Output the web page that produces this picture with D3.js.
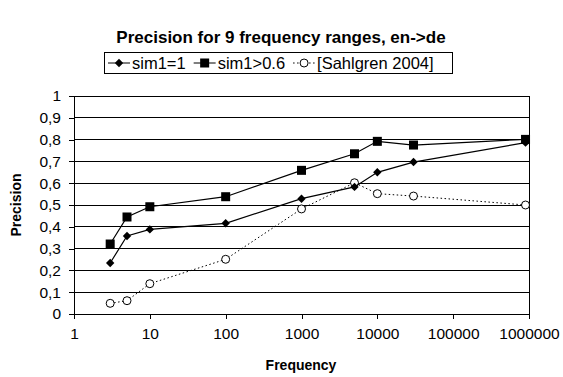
<!DOCTYPE html>
<html>
<head>
<meta charset="utf-8">
<script src="https://cdn.jsdelivr.net/npm/d3@7"></script>
<style>
  body { margin: 0; background: #fff; }
  text { font-family: "Liberation Sans", Arial, sans-serif; }
</style>
</head>
<body>
<div id="chart"></div>
<script>
// data
const frequencies = [3, 5, 10, 100, 1000, 5000, 10000, 30000, 900000];
const simExact = [0.234, 0.358, 0.388, 0.416, 0.529, 0.583, 0.65, 0.697, 0.786];
const simAbove = [0.321, 0.445, 0.492, 0.538, 0.659, 0.735, 0.792, 0.775, 0.801];
const sahlgren = [0.049, 0.061, 0.139, 0.251, 0.482, 0.602, 0.552, 0.541, 0.5];
const seriesNames = ['sim1=1', 'sim1>0.6', '[Sahlgren 2004]'];
const xTicks = [1, 10, 100, 1000, 10000, 100000, 1000000];
const yTicks = [0, 0.1, 0.2, 0.3, 0.4, 0.5, 0.6, 0.7, 0.8, 0.9, 1];

let width = 563;
let height = 377;
let margin = {top: 96, right: 34, bottom: 63, left: 74};

let svg = d3.select('#chart')
  .append('svg')
  .attr('width', width)
  .attr('height', height);

let x = d3.scaleLog().domain([1, 1000000]).range([margin.left, width - margin.right]);
let y = d3.scaleLinear().domain([0, 1]).range([height - margin.bottom, margin.top]);

// title
svg.append('text')
  .attr('x', 281).attr('y', 43)
  .attr('text-anchor', 'middle')
  .style('font-size', '17px').style('font-weight', 'bold')
  .text('Precision for 9 frequency ranges, en->de');

// gridlines
svg.append('g')
  .selectAll('line')
  .data(yTicks.filter(d => d > 0))
  .enter().append('line')
  .attr('x1', x(1)).attr('x2', x(1000000))
  .attr('y1', d => y(d)).attr('y2', d => y(d))
  .attr('stroke', '#000').attr('stroke-width', 1)
  .attr('shape-rendering', 'crispEdges');

// right border
svg.append('line')
  .attr('x1', x(1000000)).attr('x2', x(1000000))
  .attr('y1', y(0)).attr('y2', y(1))
  .attr('stroke', '#000').attr('shape-rendering', 'crispEdges');

// axes
let xAxis = svg.append('g')
  .attr('transform', `translate(0,${y(0)})`)
  .call(d3.axisBottom(x).tickValues(xTicks).tickFormat(d3.format('d')).tickSize(5).tickPadding(9));
let yAxis = svg.append('g')
  .attr('transform', `translate(${x(1)},0)`)
  .call(d3.axisLeft(y).tickValues(yTicks).tickFormat(d => d3.format('.1~f')(d).replace('.', ',')).tickSize(5).tickPadding(8));

[xAxis, yAxis].forEach(a => {
  a.select('.domain').attr('stroke', '#000').attr('shape-rendering', 'crispEdges');
  a.selectAll('.tick line').attr('stroke', '#000').attr('shape-rendering', 'crispEdges');
  a.selectAll('text').style('font-size', '15.5px').attr('fill', '#000')
    .style('font-family', '"Liberation Sans", Arial, sans-serif');
});

// axis titles
svg.append('text')
  .attr('x', 301).attr('y', 370)
  .attr('text-anchor', 'middle')
  .style('font-size', '14px').style('font-weight', 'bold')
  .text('Frequency');
svg.append('text')
  .attr('transform', `translate(21,${(y(0) + y(1)) / 2}) rotate(-90)`)
  .attr('text-anchor', 'middle')
  .style('font-size', '14px').style('font-weight', 'bold')
  .text('Precision');

let line = d3.line()
  .x(d => x(d[0]))
  .y(d => y(d[1]));

function drawMarker(g, kind, cx, cy) {
  if (kind === 'diamond') {
    g.append('path')
      .attr('d', d3.symbol().type(d3.symbolDiamond2).size(45)())
      .attr('transform', `translate(${cx},${cy})`)
      .attr('fill', '#000');
  } else if (kind === 'square') {
    g.append('rect')
      .attr('x', cx - 4.5).attr('y', cy - 4.5)
      .attr('width', 9).attr('height', 9)
      .attr('fill', '#000');
  } else {
    g.append('circle')
      .attr('cx', cx).attr('cy', cy).attr('r', 4)
      .attr('fill', '#fff').attr('stroke', '#000').attr('stroke-width', 1);
  }
}

let series = [
  {name: seriesNames[0], values: simExact, marker: 'diamond', dash: null},
  {name: seriesNames[1], values: simAbove, marker: 'square', dash: null},
  {name: seriesNames[2], values: sahlgren, marker: 'circle', dash: '1.5,2.5'}
];

// dotted series first so the solid ones sit on top
[series[2], series[0], series[1]].forEach(s => {
  let pts = frequencies.map((f, i) => [f, s.values[i]]);
  let g = svg.append('g');
  g.append('path')
    .attr('d', line(pts))
    .attr('fill', 'none')
    .attr('stroke', '#000')
    .attr('stroke-width', s.dash ? 1 : 1.2)
    .attr('stroke-dasharray', s.dash);
  pts.forEach(p => drawMarker(g, s.marker, x(p[0]), y(p[1])));
});

// legend, laid out left to right by measured text width
let legend = svg.append('g');
legend.append('rect')
  .attr('x', 104.5).attr('y', 52.5)
  .attr('width', 348).attr('height', 21)
  .attr('fill', '#fff').attr('stroke', '#000');
let lx = 108;
series.forEach(s => {
  legend.append('line')
    .attr('x1', lx).attr('x2', lx + 22)
    .attr('y1', 63).attr('y2', 63)
    .attr('stroke', '#000')
    .attr('stroke-dasharray', s.dash);
  drawMarker(legend, s.marker, lx + 11, 63);
  let t = legend.append('text')
    .attr('x', lx + 24).attr('y', 69)
    .style('font-size', '16.5px')
    .text(s.name);
  lx += 24 + t.node().getComputedTextLength() + 8;
});
</script>
</body>
</html>
